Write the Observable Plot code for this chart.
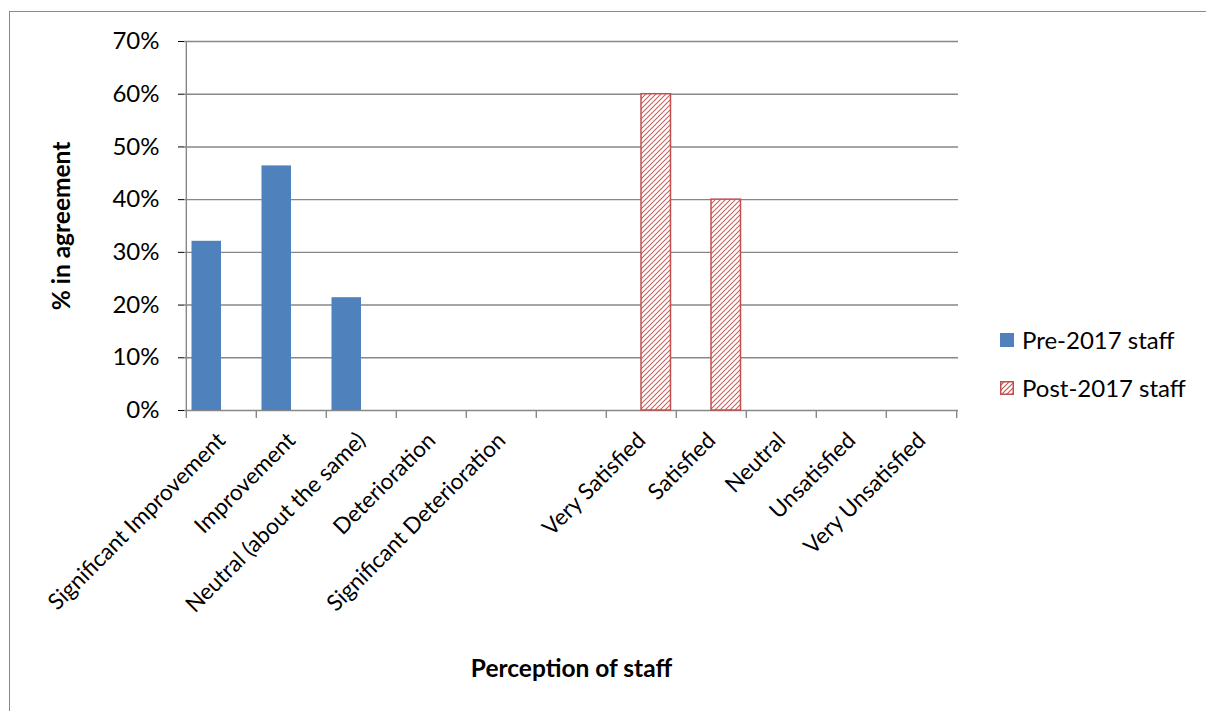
<!DOCTYPE html>
<html>
<head>
<meta charset="utf-8">
<script src="https://cdn.jsdelivr.net/npm/d3@7"></script>
<script src="https://cdn.jsdelivr.net/npm/@observablehq/plot@0.6"></script>
<style>
  html, body { margin: 0; padding: 0; background: #fff; }
  body { width: 1206px; height: 711px; position: relative; overflow: hidden; font-family: Lato, "Open Sans", sans-serif; }
  #frame { position: absolute; left: 9px; top: 11px; width: 1400px; height: 900px; border-left: 1.5px solid #8a8a8a; border-top: 1.5px solid #8a8a8a; }
  #chart { position: absolute; left: 0; top: 0; }
  .legend { position: absolute; left: 1000px; font-size: 24px; color: #000; display: flex; align-items: center; white-space: nowrap; }
  .legend .sw { width: 14px; height: 14px; margin-right: 8px; box-sizing: border-box; }
</style>
</head>
<body>
<div id="frame"></div>
<div id="chart"></div>
<div class="legend" id="leg1" style="top:325px"><div class="sw" style="background:#4F81BD"></div><span>Pre-2017 staff</span></div>
<div class="legend" id="leg2" style="top:373px"><svg class="sw" width="14" height="14" style="margin-right:8px"><defs><pattern id="hatchL" patternUnits="userSpaceOnUse" width="5" height="5"><path d="M0,5 L5,0 M-1,1 L1,-1 M4,6 L6,4" stroke="#C0504D" stroke-width="1.1"/></pattern></defs><rect x="0.75" y="0.75" width="12.5" height="12.5" fill="url(#hatchL)" stroke="#C0504D" stroke-width="1.5"/></svg><span>Post-2017 staff</span></div>
<script>
// ---- data ----
const categories = ["Significant Improvement", "Improvement", "Neutral (about the same)", "Deterioration", "Significant Deterioration", " ", "Very Satisfied", "Satisfied", "Neutral", "Unsatisfied", "Very Unsatisfied"];
const seriesNames = ["Pre-2017 staff", "Post-2017 staff"];
const preValues = [0.321, 0.464, 0.214, 0, 0, null, null, null, null, null, null];
const postValues = [null, null, null, null, null, null, 0.60, 0.40, 0, 0, 0];
const yTicks = [0, 0.1, 0.2, 0.3, 0.4, 0.5, 0.6, 0.7];
const xTitle = "Perception of staff";
const yTitle = "% in agreement";

// ---- layout ----
const W = 1206, H = 711;
const mL = 184, mR = 248, mT = 41, mB = 301;
const bw = (W - mL - mR) / categories.length;

const pre = categories.map((c, i) => ({cat: c, series: seriesNames[0], value: preValues[i]})).filter(d => d.value > 0);
const post = categories.map((c, i) => ({cat: c, series: seriesNames[1], value: postValues[i]})).filter(d => d.value > 0);

const gridColor = "#878787";

const svg = Plot.plot({
  width: W,
  height: H,
  marginLeft: mL,
  marginRight: mR,
  marginTop: mT,
  marginBottom: mB,
  style: {fontFamily: "Lato, 'Open Sans', sans-serif", fontSize: "24px", color: "#000", background: "transparent"},
  x: {type: "band", domain: categories, padding: 0, axis: null},
  y: {domain: [0, 0.7], ticks: yTicks, tickFormat: d3.format(".0%"), tickSize: 6, tickPadding: 19, label: null},
  marks: [
    Plot.ruleY(yTicks, {stroke: gridColor, strokeWidth: 1.4}),
    // y axis line
    Plot.ruleX([categories[0]], {y1: 0, y2: 0.7, dx: -bw / 2, stroke: gridColor, strokeWidth: 1.4}),
    // x category boundary ticks
    Plot.ruleX(categories, {y1: 0, y2: 0, insetBottom: -8, dx: -bw / 2, stroke: gridColor, strokeWidth: 1.4}),
    Plot.ruleX([categories[categories.length - 1]], {y1: 0, y2: 0, insetBottom: -8, dx: bw / 2, stroke: gridColor, strokeWidth: 1.4}),
    Plot.barY(pre, {x: "cat", y: "value", fill: "#4F81BD", insetLeft: 5.5, insetRight: 35}),
    Plot.barY(post, {x: "cat", y: "value", fill: "url(#hatch)", stroke: "#C0504D", strokeWidth: 1.5, insetLeft: 35, insetRight: 5.5}),
    // category labels
    Plot.text(categories, {x: d => d, y: 0, text: d => d, rotate: -45, textAnchor: "end", lineAnchor: "top", dx: -6, dy: 20, fontSize: 22.5, fill: "#000"}),
    // axis titles
    Plot.text([xTitle], {frameAnchor: "bottom", text: d => d, textAnchor: "middle", lineAnchor: "middle", dy: 259, fontSize: 24.5, fontWeight: "bold", fill: "#000"}),
    Plot.text([yTitle], {frameAnchor: "left", text: d => d, rotate: -90, textAnchor: "middle", lineAnchor: "middle", dx: -122, fontSize: 24.5, fontWeight: "bold", fill: "#000"})
  ]
});

d3.select(svg).insert("defs", ":first-child").html(
  '<pattern id="hatch" patternUnits="userSpaceOnUse" width="5" height="5">' +
  '<rect width="5" height="5" fill="#fff"/>' +
  '<path d="M0,5 L5,0 M-1,1 L1,-1 M4,6 L6,4" stroke="#C0504D" stroke-width="1.1" stroke-opacity="0.9"/></pattern>'
);
d3.select(svg).selectAll("g[aria-label='y-axis tick label'], g[aria-label='y-axis']").attr("font-size", 24).selectAll("text").attr("font-size", 24);
document.getElementById("chart").appendChild(svg);
</script>
</body>
</html>
